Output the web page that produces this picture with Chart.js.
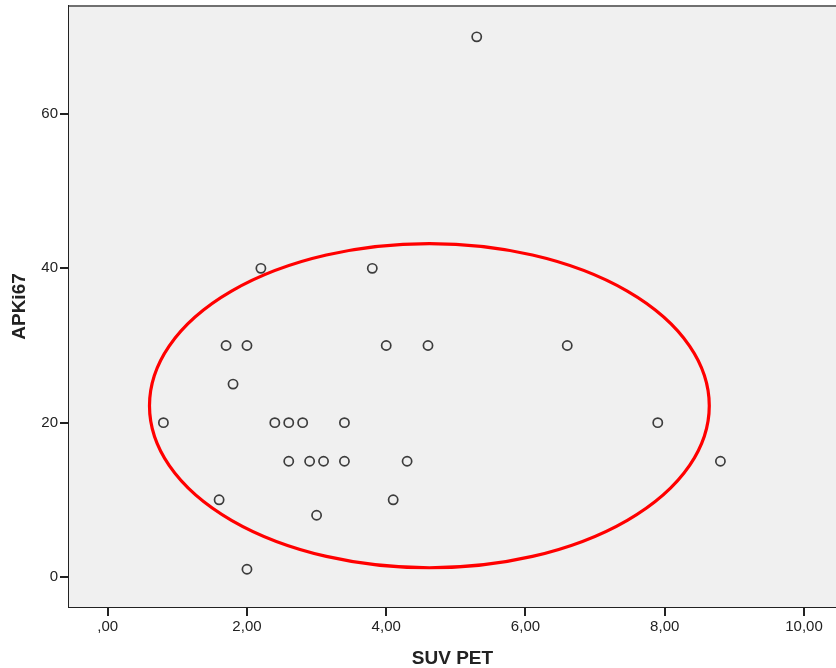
<!DOCTYPE html>
<html>
<head>
<meta charset="utf-8">
<script src="https://cdn.jsdelivr.net/npm/chart.js@4.4.1/dist/chart.umd.min.js"></script>
<style>
  html, body { margin: 0; padding: 0; background: #fff; }
  #wrap { width: 836px; height: 668px; }
</style>
</head>
<body>
<div id="wrap"><canvas id="chart" width="836" height="668"></canvas></div>
<script>
/* data */
const suvPet = [5.3, 2.2, 3.8, 1.7, 2.0, 4.0, 4.6, 6.6, 1.8, 0.8, 2.4, 2.6, 2.8, 3.4, 7.9,
                2.6, 2.9, 3.1, 3.4, 4.3, 8.8, 1.6, 4.1, 3.0, 2.0];
const apki67 = [70, 40, 40, 30, 30, 30, 30, 30, 25, 20, 20, 20, 20, 20, 20,
                15, 15, 15, 15, 15, 15, 10, 10, 8, 1];

const xTicks = [0, 2, 4, 6, 8, 10];
const xTickLabels = [",00", "2,00", "4,00", "6,00", "8,00", "10,00"];
const yTicks = [0, 20, 40, 60];
const yTickLabels = ["0", "20", "40", "60"];

// highlighted region (data units)
const ringCenter = [4.62, 22.2];
const ringRadius = [4.02, 21.0];

const points = suvPet.map((x, i) => ({ x: x, y: apki67[i] }));

/* =========================
   Plot background + frame + ellipse
========================= */
const framePlugin = {
  id: "frame",
  beforeDatasetsDraw(chart) {
    const { ctx, chartArea: a } = chart;
    ctx.save();
    ctx.fillStyle = "#f0f0f0";
    ctx.fillRect(a.left, a.top, a.right - a.left, a.bottom - a.top);
    ctx.strokeStyle = "#707070";
    ctx.lineWidth = 2;
    ctx.beginPath();
    ctx.moveTo(a.left, a.top);
    ctx.lineTo(a.right, a.top);
    ctx.stroke();
    ctx.restore();
  },
  afterDatasetsDraw(chart) {
    const { ctx } = chart;
    const xs = chart.scales.x, ys = chart.scales.y;
    const cx = xs.getPixelForValue(ringCenter[0]);
    const cy = ys.getPixelForValue(ringCenter[1]);
    const rx = xs.getPixelForValue(ringCenter[0] + ringRadius[0]) - cx;
    const ry = cy - ys.getPixelForValue(ringCenter[1] + ringRadius[1]);
    ctx.save();
    ctx.strokeStyle = "#ff0000";
    ctx.lineWidth = 3.2;
    ctx.beginPath();
    ctx.ellipse(cx, cy, rx, ry, 0, 0, Math.PI * 2);
    ctx.stroke();
    ctx.restore();
  }
};

const tickFont = { family: "'Liberation Sans', Arial, sans-serif", size: 15 };
const titleFont = { family: "'Liberation Sans', Arial, sans-serif", size: 19, weight: "bold", lineHeight: 1 };

new Chart(document.getElementById("chart"), {
  type: "scatter",
  data: {
    datasets: [{
      data: points,
      pointRadius: 4.6,
      pointBorderWidth: 1.7,
      pointBorderColor: "#3c3c3c",
      pointBackgroundColor: "rgba(0,0,0,0)",
      pointHoverRadius: 4.6
    }]
  },
  plugins: [framePlugin],
  options: {
    responsive: false,
    animation: false,
    events: [],
    layout: { autoPadding: false, padding: { top: 6, right: 0, left: 0, bottom: 0 } },
    plugins: { legend: { display: false }, tooltip: { enabled: false } },
    scales: {
      x: {
        type: "linear",
        min: -0.556,
        max: 10.46,
        afterBuildTicks: s => { s.ticks = xTicks.map(v => ({ value: v })); },
        afterFit: s => { s.height = 61; s.paddingLeft = 0; s.paddingRight = 0; },
        ticks: {
          font: tickFont,
          color: "#222",
          padding: 2,
          maxRotation: 0,
          callback: v => xTickLabels[xTicks.indexOf(v)]
        },
        grid: { drawOnChartArea: false, drawTicks: true, tickLength: 9, color: "#222", lineWidth: 2 },
        border: { display: true, color: "#222", width: 2 },
        title: { display: true, text: "SUV PET", font: titleFont, color: "#222", padding: { top: 0, bottom: 0 } }
      },
      y: {
        type: "linear",
        min: -3.89,
        max: 74.0,
        afterBuildTicks: s => { s.ticks = yTicks.map(v => ({ value: v })); },
        afterFit: s => { s.width = 69; s.paddingTop = 0; s.paddingBottom = 0; },
        ticks: {
          font: tickFont,
          color: "#222",
          padding: 2,
          callback: v => yTickLabels[yTicks.indexOf(v)]
        },
        grid: { drawOnChartArea: false, drawTicks: true, tickLength: 9, color: "#222", lineWidth: 2 },
        border: { display: true, color: "#222", width: 2 },
        title: { display: true, text: "APKi67", font: titleFont, color: "#222", padding: { top: 10, bottom: 0 } }
      }
    }
  }
});
</script>
</body>
</html>
